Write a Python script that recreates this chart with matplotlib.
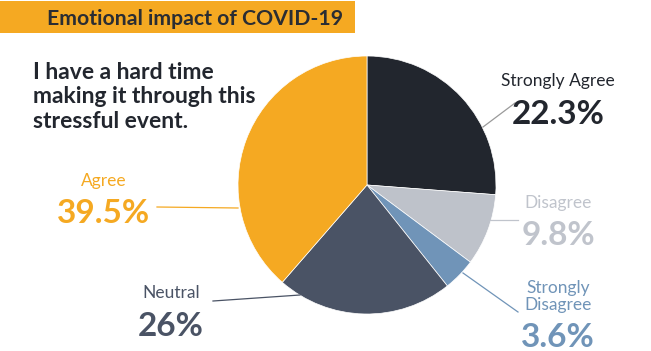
import matplotlib
matplotlib.use('Agg')
import matplotlib.pyplot as plt
from matplotlib.patches import Rectangle
from matplotlib.lines import Line2D

# data
categories = ['Strongly Agree', 'Disagree', 'Strongly\nDisagree', 'Neutral', 'Agree']
pct_labels = ['22.3%', '9.8%', '3.6%', '26%', '39.5%']
# slice sizes as drawn in the original graphic (share of the circle, %)
slice_share = [26.2, 9.0, 4.1, 22.1, 38.6]
colors = ['#22262e', '#bec2ca', '#7094b8', '#4a5365', '#f5a922']

title = 'Emotional impact of COVID-19'
question = 'I have a hard time\nmaking it through this\nstressful event.'

W, H = 651, 351
def fx(x):
    return x / W
def fy(y):
    return 1 - y / H

plt.rcParams['font.family'] = ['Lato', 'DejaVu Sans']
fig = plt.figure(figsize=(6.51, 3.51), dpi=100)
fig.patch.set_facecolor('white')

# header bar
fig.patches.append(Rectangle((0, fy(33)), fx(355), 32 / H, transform=fig.transFigure,
                             facecolor='#f5a922', edgecolor='none', zorder=0))
fig.text(fx(47), fy(25), title, fontsize=15.3, fontweight='bold', color='#2a2d33',
         va='baseline', ha='left')

fig.text(fx(33), fy(62), question, fontsize=16.5, fontweight='bold', color='#22262e',
         va='top', ha='left', linespacing=1.2)

# pie
cx, cy, r = 367, 185, 129
ax = fig.add_axes([fx(cx - r), fy(cy + r), 2 * r / W, 2 * r / H])
ax.pie(slice_share, colors=colors, startangle=90, counterclock=False,
       wedgeprops=dict(linewidth=0.5, edgecolor='white'))
ax.set_xlim(-1, 1)
ax.set_ylim(-1, 1)
ax.axis('off')

# labels: (x center, label baseline, pct baseline)
label_pos = [(558, 86, 124), (558, 208, 245), (558, 310, 347), (171, 298, 336), (104, 186, 223)]
label_colors = ['#22262e', '#c0c4cc', '#7094b8', '#4a5365', '#f5a922']
for cat, pct, (x, yl, yp), c in zip(categories, pct_labels, label_pos, label_colors):
    fig.text(fx(x), fy(yl), cat, fontsize=12.5, color=c, ha='center', va='baseline',
             linespacing=1.1)
    fig.text(fx(x), fy(yp), pct, fontsize=24, fontweight='bold', color=c,
             ha='center', va='baseline')

# leader lines
leaders = [((483, 127), (515, 103), '#9a9a9a'),
           ((490, 220), (518, 220), '#c0c4cc'),
           ((463, 273), (518, 312), '#7094b8'),
           ((157, 207), (238, 208), '#f5a922'),
           ((213, 301), (300, 295), '#4a5365')]
for (x0, y0), (x1, y1), c in leaders:
    fig.lines.append(Line2D([fx(x0), fx(x1)], [fy(y0), fy(y1)], transform=fig.transFigure,
                            color=c, linewidth=0.9))

fig.savefig('out.png', dpi=100)
